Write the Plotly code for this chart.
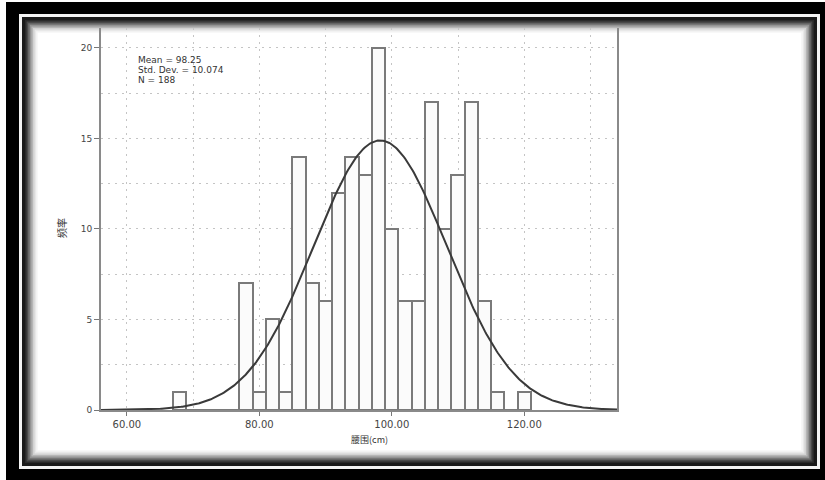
import numpy as np
import plotly.graph_objects as go

# ---- data ----
bin_left = [67, 69, 71, 73, 75, 77, 79, 81, 83, 85, 87, 89, 91, 93, 95, 97, 99,
            101, 103, 105, 107, 109, 111, 113, 115, 117, 119]
counts = [1, 0, 0, 0, 0, 7, 1, 5, 1, 14, 7, 6, 12, 14, 13, 20, 10,
          6, 6, 17, 10, 13, 17, 6, 1, 0, 1]
bin_width = 2
mean_val = 98.25
std_val = 10.074
n_val = 188
x_ticks = [60, 80, 100, 120]
x_tick_labels = ["60.00", "80.00", "100.00", "120.00"]
y_ticks = [0, 5, 10, 15, 20]
stats_lines = ["Mean = 98.25", "Std. Dev. = 10.074", "N = 188"]
x_title = "腰围(cm)"
y_title = "频率"

W, H = 825, 480
L, R, T, B = 101, 208, 28, 70
PW, PH = W - L - R, H - T - B


def px(x):
    return (x - L) / PW


def py(y):
    return (H - B - y) / PH


centers = [b + bin_width / 2 for b in bin_left]

fig = go.Figure()
fig.add_trace(go.Bar(
    x=centers, y=counts, width=bin_width,
    marker=dict(color="#fbfbfb", line=dict(color="#7a7a7a", width=2)),
    showlegend=False, hoverinfo="skip"))

xs = np.linspace(56.1, 134.0, 400)
ys = n_val * bin_width / (std_val * np.sqrt(2 * np.pi)) * np.exp(-(xs - mean_val) ** 2 / (2 * std_val ** 2))
fig.add_trace(go.Scatter(x=xs, y=ys, mode="lines",
                         line=dict(color="#3a3a3a", width=2),
                         showlegend=False, hoverinfo="skip"))

# ---- decorative frame ----
shapes = []


def rect(x0, y0, x1, y1, color):
    shapes.append(dict(type="rect", xref="paper", yref="paper", layer="below",
                       x0=px(x0), x1=px(x1), y0=py(y1), y1=py(y0),
                       fillcolor=color, line=dict(width=0)))


rect(6, 2, 826, 481, "#000000")
rect(19, 14, 820, 469, "#f4f4f4")
rect(22, 17, 817, 466, "#1a1a1a")
grads = ["#2a2a2a", "#4a4a4a", "#6e6e6e", "#939393", "#b6b6b6", "#d2d2d2", "#e8e8e8", "#f6f6f6", "#ffffff"]
for i, c in enumerate(grads):
    d = 2 + i * 1.6
    rect(23 + d, 18 + d, 816 - d, 465 - d, c)

fig.update_layout(shapes=shapes)

annotations = []
for i, s in enumerate(stats_lines):
    annotations.append(dict(text=s, x=px(136), y=py(60 + 10 * i), xref="paper", yref="paper",
                            xanchor="left", yanchor="middle", showarrow=False,
                            font=dict(family="DejaVu Sans", size=9, color="#333")))
annotations.append(dict(text=y_title, x=px(61), y=py(228), xref="paper", yref="paper",
                        textangle=-90, showarrow=False, xanchor="center", yanchor="middle",
                        font=dict(family="Noto Sans CJK SC", size=10, color="#333")))
annotations.append(dict(text=x_title, x=px(369), y=py(440), xref="paper", yref="paper",
                        showarrow=False, xanchor="center", yanchor="middle",
                        font=dict(family="Noto Sans CJK SC", size=9, color="#333")))
fig.update_layout(annotations=annotations)

grid_dash = "2px,5px"
fig.update_layout(
    width=W, height=H,
    margin=dict(l=L, r=R, t=T, b=B, pad=0),
    paper_bgcolor="white", plot_bgcolor="rgba(0,0,0,0)",
    bargap=0,
    xaxis=dict(range=[56.1, 134.0], tickmode="array", tickvals=x_ticks, ticktext=x_tick_labels,
               ticks="outside", ticklen=4, tickwidth=1, tickcolor="#777",
               showline=True, linecolor="#8a8a8a", linewidth=2,
               showgrid=True, gridcolor="#c4c4c4", griddash=grid_dash, gridwidth=1,
               minor=dict(tickmode="array", tickvals=[70, 90, 110, 130], showgrid=True,
                          gridcolor="#c4c4c4", griddash=grid_dash, ticks=""),
               zeroline=False,
               tickfont=dict(family="DejaVu Sans", size=10, color="#444")),
    yaxis=dict(range=[0, 21.1], tickmode="array", tickvals=y_ticks,
               ticks="outside", ticklen=5, tickwidth=1, tickcolor="#777",
               showline=True, linecolor="#8a8a8a", linewidth=2, mirror=True,
               showgrid=True, gridcolor="#c4c4c4", griddash=grid_dash, gridwidth=1,
               minor=dict(tickmode="array", tickvals=[2.5, 7.5, 12.5, 17.5], showgrid=True,
                          gridcolor="#c4c4c4", griddash=grid_dash, ticks=""),
               zeroline=False,
               tickfont=dict(family="DejaVu Sans", size=9, color="#444")),
)

fig.write_html("out.html", config={"displayModeBar": False},
               post_script="document.body.style.margin='0';document.body.style.overflow='hidden';")
